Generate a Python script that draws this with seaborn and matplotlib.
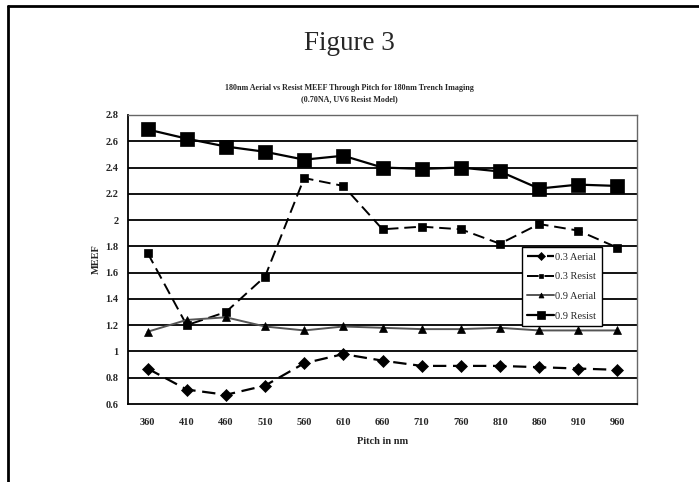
import matplotlib
matplotlib.use('Agg')
import matplotlib.pyplot as plt
import seaborn as sns
import pandas as pd
from matplotlib.lines import Line2D

# data
pitch = ['360', '410', '460', '510', '560', '610', '660', '710', '760', '810', '860', '910', '960']
aerial_03 = [0.87, 0.71, 0.67, 0.74, 0.91, 0.98, 0.93, 0.89, 0.89, 0.89, 0.88, 0.87, 0.86]
resist_03 = [1.75, 1.20, 1.30, 1.57, 2.32, 2.26, 1.93, 1.95, 1.93, 1.82, 1.97, 1.92, 1.79]
aerial_09 = [1.15, 1.24, 1.26, 1.19, 1.16, 1.19, 1.18, 1.17, 1.17, 1.18, 1.16, 1.16, 1.16]
resist_09 = [2.69, 2.62, 2.56, 2.52, 2.46, 2.49, 2.40, 2.39, 2.40, 2.37, 2.24, 2.27, 2.26]
yticks = [0.6, 0.8, 1, 1.2, 1.4, 1.6, 1.8, 2, 2.2, 2.4, 2.6, 2.8]

sns.set_style('white')
plt.rcParams['font.family'] = ['Liberation Serif', 'DejaVu Serif']

fig = plt.figure(figsize=(6.99, 4.82), dpi=100)
ax = fig.add_axes([128 / 699, 1 - 404 / 482, 509 / 699, 289 / 482])

styles = {
    '0.3 Aerial': (aerial_03, dict(color='black', marker='D', markersize=6.5, linewidth=1.6, linestyle=(0, (6, 3)))),
    '0.3 Resist': (resist_03, dict(color='black', marker='s', markersize=5.5, linewidth=1.4, linestyle=(0, (6, 3)))),
    '0.9 Aerial': (aerial_09, dict(color='#555555', marker='^', markersize=6, linewidth=1.4, linestyle='-')),
    '0.9 Resist': (resist_09, dict(color='black', marker='s', markersize=9.5, linewidth=1.6, linestyle='-')),
}

for name, (vals, kw) in styles.items():
    df = pd.DataFrame({'pitch': pitch, 'meef': vals})
    sns.lineplot(data=df, x='pitch', y='meef', ax=ax, label=name, errorbar=None,
                 markeredgecolor='black', markerfacecolor='black', markeredgewidth=0.5, **kw)

# horizontal gridlines
for v in yticks[1:-1]:
    ax.axhline(v, color='black', lw=1.3, zorder=0)

ax.set_xlim(-0.5, len(pitch) - 0.5)
ax.set_ylim(0.6, 2.8)
ax.set_yticks(yticks)
ax.set_yticklabels(['0.6', '0.8', '1', '1.2', '1.4', '1.6', '1.8', '2', '2.2', '2.4', '2.6', '2.8'],
                   fontsize=7.5, fontweight='bold')
ax.set_xticks(range(len(pitch)))
ax.set_xticklabels(pitch, fontsize=7.5, fontweight='bold')
ax.set_xticks([i - 0.5 for i in range(len(pitch) + 1)], minor=True)
ax.tick_params(axis='x', which='major', length=0, pad=10)
ax.tick_params(axis='x', which='minor', length=4, width=1, color='black', direction='out')
ax.tick_params(axis='y', length=4, width=1, color='black', direction='out', pad=3)

for side in ['left', 'bottom']:
    ax.spines[side].set_color('black')
    ax.spines[side].set_linewidth(1.3)
for side in ['top', 'right']:
    ax.spines[side].set_color('#666666')
    ax.spines[side].set_linewidth(1.0)
    ax.spines[side].set_linestyle((0, (1, 1)))

ax.set_xlabel('Pitch in nm', fontsize=7.5, fontweight='bold', labelpad=7)
ax.set_ylabel('MEEF', fontsize=7.5, fontweight='bold', labelpad=3)

leg = ax.legend(loc='upper left', bbox_to_anchor=((522 - 128) / 509, 1 - (247 - 115) / 289),
                fontsize=7.5, frameon=True, fancybox=False, edgecolor='black', framealpha=1,
                handlelength=2.6, handletextpad=0.1, labelspacing=1.0, borderpad=0.5,
                borderaxespad=0, markerscale=0.6)
leg.get_frame().set_linewidth(1.0)

fig.text(0.5, 1 - 43 / 482, 'Figure 3', ha='center', va='center', fontsize=19.5)
fig.text(0.5, 1 - 88 / 482, '180nm Aerial vs Resist MEEF Through Pitch for 180nm Trench Imaging',
         ha='center', va='center', fontsize=5.8, fontweight='bold')
fig.text(0.5, 1 - 99 / 482, '(0.70NA, UV6 Resist Model)',
         ha='center', va='center', fontsize=5.8, fontweight='bold')

# page frame lines
fig.add_artist(Line2D([8 / 699, 1], [1 - 6 / 482, 1 - 6 / 482], color='black', lw=2, transform=fig.transFigure))
fig.add_artist(Line2D([8 / 699, 8 / 699], [0, 1 - 6 / 482], color='black', lw=2, transform=fig.transFigure))

fig.savefig('out.png', dpi=100, facecolor='white')
